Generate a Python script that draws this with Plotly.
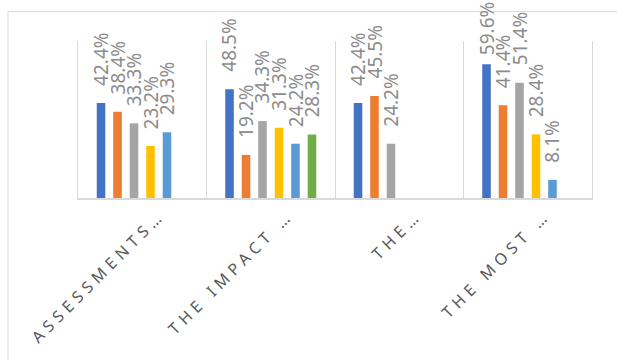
import plotly.graph_objects as go

# Category labels (already truncated) and six response series, in percent
categories = ["ASSESSMENTS…", "THE IMPACT …", "THE…", "THE MOST …"]
series_names = ["Series 1", "Series 2", "Series 3", "Series 4", "Series 5", "Series 6"]
series_1 = [42.4, 48.5, 42.4, 59.6]
series_2 = [38.4, 19.2, 45.5, 41.4]
series_3 = [33.3, 34.3, 24.2, 51.4]
series_4 = [23.2, 31.3, None, 28.4]
series_5 = [29.3, 24.2, None, 8.1]
series_6 = [None, 28.3, None, None]
colors = ["#4472C4", "#ED7D31", "#A5A5A5", "#FFC000", "#5B9BD5", "#70AD47"]

all_series = [series_1, series_2, series_3, series_4, series_5, series_6]

W, H = 617, 360
ML, MR, MT, MB = 78, 25, 41, 159
plot_w = W - ML - MR
plot_h = H - MT - MB
Y_MAX = 70
BARGAP = 0.23
BARGROUPGAP = 0.48
LABEL_SIZE = 19
LABEL_GAP = 15

fig = go.Figure()
for name, vals, col in zip(series_names, all_series, colors):
    fig.add_trace(go.Bar(
        name=name,
        x=categories,
        y=vals,
        marker=dict(color=col, line=dict(width=0)),
        hoverinfo="skip",
    ))

# Rotated value labels above each bar, offset sideways to each bar's slot;
# labels that would run off the top of the page are nudged down to fit
n_series = len(all_series)
slot_px = plot_w / len(categories) * (1 - BARGAP) / n_series
for i, vals in enumerate(all_series):
    dx = (i - (n_series - 1) / 2) * slot_px
    for cat, v in zip(categories, vals):
        if v is None:
            continue
        label = f"{v:.1f}%"
        bar_top_px = MT + plot_h * (1 - v / Y_MAX)
        label_len_px = 0.59 * LABEL_SIZE * len(label)
        gap = max(2, min(LABEL_GAP, bar_top_px - label_len_px - 2))
        fig.add_annotation(
            x=cat, y=v, xref="x", yref="y",
            text=label,
            showarrow=False,
            textangle=-90,
            xanchor="center", yanchor="bottom",
            xshift=dx, yshift=gap,
            font=dict(family="Noto Sans", size=LABEL_SIZE, color="#8C8C8C"),
        )

# Outer chart frame (left and top edges visible)
fx0 = (8 - ML) / plot_w
fx1 = (W + 20 - ML) / plot_w
fy_top = 1 + (MT - 11) / plot_h
fy_bot = -(H + 20 - (H - MB)) / plot_h
fig.add_shape(type="rect", xref="paper", yref="paper",
              x0=fx0, x1=fx1, y0=fy_bot, y1=fy_top,
              line=dict(color="#D9D9D9", width=1), fillcolor="rgba(0,0,0,0)",
              layer="below")

tick_text = [f"<span style='letter-spacing:5px'>{c}</span>" for c in categories]

fig.update_layout(
    width=W, height=H,
    margin=dict(l=ML, r=MR, t=MT, b=MB, pad=0),
    paper_bgcolor="white",
    plot_bgcolor="white",
    barmode="group",
    bargap=BARGAP,
    bargroupgap=BARGROUPGAP,
    showlegend=False,
    xaxis=dict(
        type="category",
        tickmode="array",
        tickvals=categories,
        ticktext=tick_text,
        tickangle=-45,
        tickson="boundaries",
        ticks="",
        ticklabelshift=18,
        showgrid=True,
        gridcolor="#D9D9D9",
        gridwidth=1,
        showline=True,
        linecolor="#D9D9D9",
        linewidth=1.5,
        tickfont=dict(family="Noto Sans", size=16, color="#595959"),
    ),
    yaxis=dict(
        range=[0, Y_MAX],
        showticklabels=False,
        showgrid=False,
        zeroline=False,
        showline=True,
        mirror=True,
        linecolor="#D9D9D9",
        linewidth=1,
        ticks="",
    ),
)

fig.write_html("out.html")
